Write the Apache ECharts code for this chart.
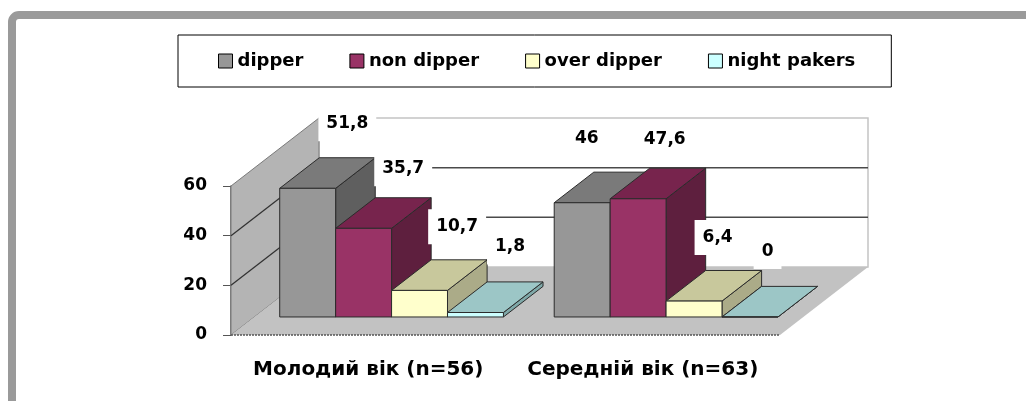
<!DOCTYPE html>
<html>
<head>
<meta charset="utf-8">
<script src="https://cdn.jsdelivr.net/npm/echarts@6/dist/echarts.min.js"></script>
<style>
html,body{margin:0;padding:0;background:#fff;}
#chart{width:1026px;height:401px;}
</style>
</head>
<body>
<div id="chart"></div>
<script>
// ---- data ----
const categories = ['Молодий вік (n=56)', 'Середній вік (n=63)'];
const seriesNames = ['dipper', 'non dipper', 'over dipper', 'night pakers'];
const dipper = [51.8, 46];
const nonDipper = [35.7, 47.6];
const overDipper = [10.7, 6.4];
const nightPakers = [1.8, 0];
const yTicks = [0, 20, 40, 60];

// ---- style ----
const FONT = '"DejaVu Sans", sans-serif';
const DEPTH = [88, -68];      // oblique depth vector (pixels) of the whole floor
const Z0 = 0.265, Z1 = 0.715; // bar front / back depth fractions
const GROUP_FRAC = 0.815;     // share of the category band used by bars
const faceColors = [
  {front: '#979797', top: '#7a7a7a', side: '#5f5f5f'},
  {front: '#993366', top: '#77244d', side: '#5e1f3e'},
  {front: '#ffffcc', top: '#c8c89c', side: '#abab88'},
  {front: '#ccffff', top: '#9cc6c6', side: '#7fa8a8'}
];
const labelNudge = [[0, 0, -2, -5], [-35, -13, -16, -22]];
const labelLift = [-34, -29, -33, -35];

const allValues = [dipper, nonDipper, overDipper, nightPakers];

function fmt(v) { return String(v).replace('.', ','); }

function barRender(sIdx) {
  return function (params, api) {
    const c = api.value(0), v = api.value(1);
    const band = api.size([1, 0])[0];
    const base = api.coord([c, 0]);
    const top = api.coord([c, v]);
    const gw = band * GROUP_FRAC, bw = gw / 4;
    const x0 = base[0] - gw / 2 + sIdx * bw, x1 = x0 + bw;
    const fx = DEPTH[0] * Z0, fy = DEPTH[1] * Z0, bx = DEPTH[0] * Z1, by = DEPTH[1] * Z1;
    const yb = base[1], yt = top[1];
    const col = faceColors[sIdx];
    const edge = {stroke: '#2b2b2b', lineWidth: 1};
    return {
      type: 'group',
      children: [
        {type: 'polygon', shape: {points: [[x1 + fx, yt + fy], [x1 + bx, yt + by], [x1 + bx, yb + by], [x1 + fx, yb + fy]]},
         style: Object.assign({fill: col.side}, edge)},
        {type: 'polygon', shape: {points: [[x0 + fx, yt + fy], [x1 + fx, yt + fy], [x1 + bx, yt + by], [x0 + bx, yt + by]]},
         style: Object.assign({fill: col.top}, edge)},
        {type: 'rect', shape: {x: x0 + fx, y: yt + fy, width: bw, height: yb - yt},
         style: Object.assign({fill: col.front}, edge)}
      ]
    };
  };
}

function bgRender(params, api) {
  const cs = params.coordSys;
  const L = cs.x, R = cs.x + cs.width, B = cs.y + cs.height;
  const dx = DEPTH[0], dy = DEPTH[1];
  const yTop = api.coord([0, yTicks[yTicks.length - 1]])[1];
  const children = [];
  // back wall
  children.push({type: 'polygon', shape: {points: [[L + dx, yTop + dy], [R + dx, yTop + dy], [R + dx, B + dy], [L + dx, B + dy]]},
    style: {fill: '#ffffff', stroke: '#c4c4c4', lineWidth: 1.5}});
  // left wall
  children.push({type: 'polygon', shape: {points: [[L, B], [L, yTop], [L + dx, yTop + dy], [L + dx, B + dy]]},
    style: {fill: '#b4b4b4', stroke: '#7a7a7a', lineWidth: 1}});
  // floor
  children.push({type: 'polygon', shape: {points: [[L, B], [R, B], [R + dx, B + dy], [L + dx, B + dy]]},
    style: {fill: '#c2c2c2', stroke: null}});
  children.push({type: 'line', shape: {x1: L, y1: B, x2: R, y2: B}, style: {stroke: '#555', lineWidth: 1.5, lineDash: [2, 1]}});
  // gridlines
  yTicks.forEach(function (t) {
    if (t === 0 || t === yTicks[yTicks.length - 1]) return;
    const y = api.coord([0, t])[1];
    children.push({type: 'line', shape: {x1: L, y1: y, x2: L + dx, y2: y + dy}, style: {stroke: '#333', lineWidth: 1.3}});
    children.push({type: 'line', shape: {x1: L + dx, y1: y + dy, x2: R + dx, y2: y + dy}, style: {stroke: '#4a4a4a', lineWidth: 1.5}});
  });
  return {type: 'group', children: children};
}

function labelRender(params, api) {
  const c = api.value(0), v = api.value(1), s = api.value(2);
  const band = api.size([1, 0])[0];
  const base = api.coord([c, 0]);
  const top = api.coord([c, v]);
  const gw = band * GROUP_FRAC, bw = gw / 4;
  const cx = base[0] - gw / 2 + (s + 0.5) * bw + DEPTH[0] * Z1;
  const cy = top[1] + DEPTH[1] * Z1;
  return {
    type: 'text',
    x: cx + labelNudge[c][s],
    y: cy + labelLift[s],
    style: {
      text: fmt(v), fill: '#000', fontFamily: FONT, fontWeight: 'bold', fontSize: 17,
      align: 'center', verticalAlign: 'middle', backgroundColor: '#fff', padding: [9, 8]
    }
  };
}

const labelData = [];
allValues.forEach(function (arr, s) { arr.forEach(function (v, c) { labelData.push([c, v, s]); }); });

const chart = echarts.init(document.getElementById('chart'), null, {renderer: 'canvas'});
const series = [{
  type: 'custom', name: '_bg', renderItem: bgRender, data: [[0, 0]], z: 1, clip: false, silent: true,
  encode: {x: 0, y: 1}
}];
allValues.forEach(function (arr, s) {
  series.push({
    type: 'custom', name: seriesNames[s], renderItem: barRender(s), z: 2, clip: false,
    itemStyle: {color: faceColors[s].front},
    encode: {x: 0, y: 1},
    data: categories.map(function (_, i) { return [i, arr[i]]; })
  });
});
series.push({type: 'custom', name: '_labels', renderItem: labelRender, data: labelData, z: 5, clip: false, silent: true,
  encode: {x: 0, y: 1}});

chart.setOption({
  animation: false,
  backgroundColor: '#fff',
  graphic: [{
    type: 'rect', shape: {x: 12, y: 15, width: 1040, height: 420, r: 7},
    style: {fill: 'none', stroke: '#9a9a9a', lineWidth: 8}, z: 0
  }],
  legend: {
    data: seriesNames,
    left: 178, top: 35,
    padding: [17, 36, 17, 40],
    borderColor: '#000', borderWidth: 1,
    itemWidth: 14, itemHeight: 14, itemGap: 46,
    icon: 'rect',
    itemStyle: {borderColor: '#000', borderWidth: 1},
    textStyle: {fontFamily: FONT, fontWeight: 'bold', fontSize: 18, color: '#000'}
  },
  grid: {left: 231, top: 186, width: 549, height: 149, containLabel: false, outerBoundsMode: 'none'},
  xAxis: {
    type: 'category', data: categories,
    axisLine: {show: false}, axisTick: {show: false}, splitLine: {show: false},
    axisLabel: {interval: 0, hideOverlap: false, margin: 25, fontFamily: FONT, fontWeight: 'bold', fontSize: 20, color: '#000'}
  },
  yAxis: {
    type: 'value', min: 0, max: 60, interval: 20,
    axisLine: {show: true, lineStyle: {color: '#555', width: 1.5}},
    axisTick: {show: true, length: 8, lineStyle: {color: '#555'}},
    splitLine: {show: false},
    axisLabel: {margin: 24, fontFamily: FONT, fontWeight: 'bold', fontSize: 17, color: '#000'}
  },
  tooltip: {show: false},
  series: series
});
</script>
</body>
</html>
